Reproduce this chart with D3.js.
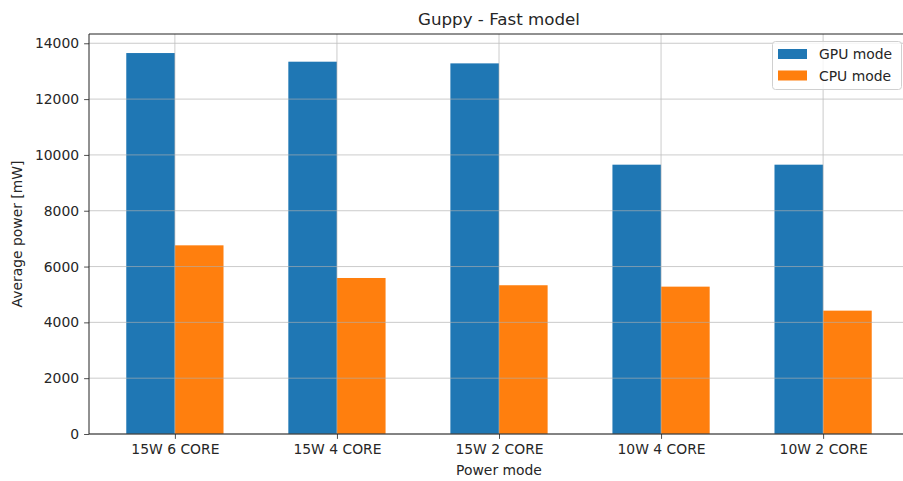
<!DOCTYPE html>
<html>
<head>
<meta charset="utf-8">
<script src="https://cdn.jsdelivr.net/npm/d3@7"></script>
<style>
  body { margin: 0; background: #fff; }
  text { font-family: "DejaVu Sans", sans-serif; fill: #262626; }
</style>
</head>
<body>
<svg id="chart"></svg>
<script>
// values
const modes = ["15W 6 CORE", "15W 4 CORE", "15W 2 CORE", "10W 4 CORE", "10W 2 CORE"];
const gpuPower = [13650, 13340, 13280, 9650, 9650];
const cpuPower = [6760, 5590, 5330, 5280, 4420];
const yTicks = [0, 2000, 4000, 6000, 8000, 10000, 12000, 14000];
const seriesNames = ["GPU mode", "CPU mode"];
const seriesColors = ["#1f77b4", "#ff7f0e"];

const width = 903, height = 481;
const plotL = 89, plotR = 909, plotT = 34, plotB = 434;
const barW = 0.3;

const svg = d3.select("#chart")
    .attr("width", width)
    .attr("height", height);

const x = d3.scaleLinear()
    .domain([-0.5 - 0.03, modes.length - 1 + 0.5 + 0.03])
    .range([plotL, plotR]);

const y = d3.scaleLinear()
    .domain([0, d3.max(gpuPower.concat(cpuPower)) * 1.05])
    .range([plotB, plotT]);

// bars
const series = [gpuPower, cpuPower];
series.forEach((vals, s) => {
    svg.append("g")
        .selectAll("rect")
        .data(vals)
        .enter().append("rect")
        .attr("x", (d, i) => x(i + (s === 0 ? -barW : 0)))
        .attr("y", d => y(d))
        .attr("width", x(barW) - x(0))
        .attr("height", d => plotB - y(d))
        .attr("fill", seriesColors[s]);
});

// grid (drawn over the bars like matplotlib)
const grid = svg.append("g").attr("stroke", "#b0b0b0").attr("stroke-width", 0.8).attr("opacity", 0.8);
grid.selectAll(".hg").data(yTicks).enter().append("line")
    .attr("x1", plotL).attr("x2", plotR)
    .attr("y1", d => y(d)).attr("y2", d => y(d));
grid.selectAll(".vg").data(modes).enter().append("line")
    .attr("x1", (d, i) => x(i)).attr("x2", (d, i) => x(i))
    .attr("y1", plotT).attr("y2", plotB);

// axes
const yAxis = svg.append("g")
    .attr("transform", `translate(${plotL},0)`)
    .call(d3.axisLeft(y).tickValues(yTicks).tickSize(4.9).tickPadding(5).tickFormat(d3.format("d")));
const xAxis = svg.append("g")
    .attr("transform", `translate(0,${plotB})`)
    .call(d3.axisBottom(x).tickValues(d3.range(modes.length)).tickSize(4.9).tickPadding(5).tickFormat(i => modes[i]));

[yAxis, xAxis].forEach(g => {
    g.select(".domain").remove();
    g.selectAll("line").attr("stroke", "#222").attr("stroke-width", 0.8);
    g.selectAll("text").style("font-size", "13.9px").attr("fill", "#262626");
});

// spines
svg.append("line").attr("x1", plotL).attr("x2", plotL).attr("y1", plotT).attr("y2", plotB)
    .attr("stroke", "#222").attr("stroke-width", 1);
svg.append("line").attr("x1", plotL).attr("x2", plotR).attr("y1", plotB).attr("y2", plotB)
    .attr("stroke", "#222").attr("stroke-width", 1);
svg.append("line").attr("x1", plotL).attr("x2", plotR).attr("y1", plotT).attr("y2", plotT)
    .attr("stroke", "#222").attr("stroke-width", 1);

// titles
svg.append("text")
    .attr("x", (plotL + plotR) / 2).attr("y", 25)
    .attr("text-anchor", "middle")
    .style("font-size", "16.7px")
    .text("Guppy - Fast model");

svg.append("text")
    .attr("x", (plotL + plotR) / 2).attr("y", 475)
    .attr("text-anchor", "middle")
    .style("font-size", "13.9px")
    .text("Power mode");

svg.append("text")
    .attr("transform", `translate(22,${(plotT + plotB) / 2}) rotate(-90)`)
    .attr("text-anchor", "middle")
    .style("font-size", "13.9px")
    .text("Average power [mW]");

// legend
const lg = svg.append("g");
lg.append("rect")
    .attr("x", 772.5).attr("y", 41.5).attr("width", 129).attr("height", 48)
    .attr("rx", 3)
    .attr("fill", "#fff").attr("fill-opacity", 0.8)
    .attr("stroke", "#d0d0d0").attr("stroke-width", 1);
seriesNames.forEach((name, i) => {
    lg.append("rect")
        .attr("x", 778).attr("y", 49 + i * 21.5)
        .attr("width", 29).attr("height", 10)
        .attr("fill", seriesColors[i]);
    lg.append("text")
        .attr("x", 819).attr("y", 59 + i * 21.5)
        .style("font-size", "13.9px")
        .text(name);
});
</script>
</body>
</html>
